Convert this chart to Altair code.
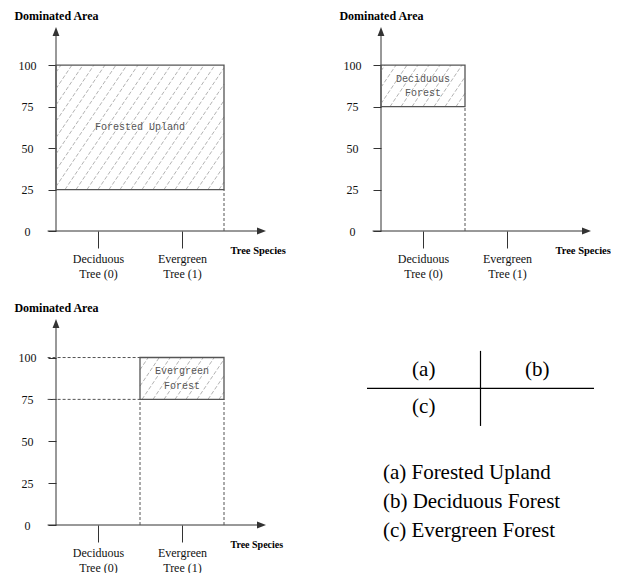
import json
import numpy as np
import pandas as pd
import altair as alt

SERIF = "Liberation Serif"
MONO = "Liberation Mono"

# ---------------- data ----------------
y_ticks = [0, 25, 50, 75, 100]
cat_values = [0, 1]
cat_labels = ["Deciduous|Tree (0)", "Evergreen|Tree (1)"]
x_title = "Tree Species"
y_title = "Dominated Area"

region_names = ["Forested Upland", "Deciduous|Forest", "Evergreen|Forest"]
region_x0 = [-0.5, -0.5, 0.5]
region_x1 = [1.5, 0.5, 1.5]
region_y0 = [25, 75, 75]
region_y1 = [100, 100, 100]

# dashed guide lines for each panel: x, x2, y, y2
guide_x = [[1.5], [0.5], [0.5, 1.5, -0.6, -0.6]]
guide_x2 = [[1.5], [0.5], [0.5, 1.5, 0.5, 0.5]]
guide_y = [[0], [0], [0, 0, 75, 100]]
guide_y2 = [[25], [75], [75, 75, 75, 100]]

table_cells = ["(a)", "(b)", "(c)"]
table_col = [0, 1, 0]
table_row = [0, 0, 1]
legend_lines = ["(a) Forested Upland", "(b) Deciduous Forest", "(c) Evergreen Forest"]

X_DOM = [-0.5, 2.0]
Y_DOM = [0, 123]
PW = 210


def hatch_df(x0, x1, y0, y1, pxx, pxy, spacing=11.0, angle=56.0):
    X0, X1, Y0, Y1 = x0 * pxx, x1 * pxx, y0 * pxy, y1 * pxy
    k = np.tan(np.radians(angle))
    H = Y1 - Y0
    rows = []
    c = np.floor((X0 - H / k) / spacing) * spacing
    while c < X1:
        xs, xe = max(c, X0), min(c + H / k, X1)
        if xe - xs > 0.5:
            rows.append({"x": xs / pxx, "x2": xe / pxx,
                         "y": (Y0 + k * (xs - c)) / pxy, "y2": (Y0 + k * (xe - c)) / pxy})
        c += spacing
    return pd.DataFrame(rows)


def panel(i, height, tsize):
    xs = alt.Scale(domain=X_DOM, nice=False, zero=False)
    ys = alt.Scale(domain=Y_DOM, nice=False, zero=False)
    pxx = PW / (X_DOM[1] - X_DOM[0])
    pxy = height / (Y_DOM[1] - Y_DOM[0])

    x_axis = alt.Axis(
        values=cat_values, tickSize=17, tickColor="#333", tickWidth=1, domain=False, grid=False,
        labelExpr="split(" + json.dumps(cat_labels) + "[datum.value], '|')",
        labelFont=SERIF, labelFontSize=12, labelColor="#111", labelPadding=5,
        labelBaseline="top", labelAlign="center", labelLineHeight=15,
        labelFlush=False, labelOverlap=False,
        title=x_title, titleX=174, titleY=19, titleAlign="left", titleBaseline="middle",
        titleFont=SERIF, titleFontSize=tsize, titleFontWeight="bold", titleColor="#000")
    y_axis = alt.Axis(
        values=y_ticks, tickSize=8, tickColor="#333", tickWidth=1, domain=False, grid=False,
        labelFont=SERIF, labelFontSize=12, labelColor="#111", labelAlign="center",
        labelBaseline="middle", labelPadding=21, labelOverlap=False, labelFlush=False,
        title=y_title, titleAngle=0, titleX=0, titleY=-12, titleAlign="center",
        titleBaseline="middle", titleFont=SERIF, titleFontSize=12, titleFontWeight="bold",
        titleColor="#000")

    def X(f):
        return alt.X(f, scale=xs, axis=x_axis)

    def Y(f):
        return alt.Y(f, scale=ys, axis=y_axis)

    axes_df = pd.DataFrame({"x": [X_DOM[0] - 0.1, X_DOM[0]], "x2": [X_DOM[1] - 0.05, X_DOM[0]],
                            "y": [0, 0], "y2": [0, Y_DOM[1] - 2]})
    axes = alt.Chart(axes_df).mark_rule(color="#333", strokeWidth=1).encode(
        x=X("x:Q"), x2="x2:Q", y=Y("y:Q"), y2="y2:Q")

    up = alt.Chart(pd.DataFrame({"x": [X_DOM[0]], "y": [Y_DOM[1]]})).mark_point(
        shape="M0,0L-0.38,1L0.38,1Z", filled=True, color="#333", size=324, opacity=1).encode(
        x=X("x:Q"), y=Y("y:Q"))
    right = alt.Chart(pd.DataFrame({"x": [X_DOM[1]], "y": [0]})).mark_point(
        shape="M0,0L-1,-0.38L-1,0.38Z", filled=True, color="#333", size=324, opacity=1).encode(
        x=X("x:Q"), y=Y("y:Q"))

    gdf = pd.DataFrame({"x": guide_x[i], "x2": guide_x2[i], "y": guide_y[i], "y2": guide_y2[i]})
    guides = alt.Chart(gdf).mark_rule(color="#555", strokeWidth=1, strokeDash=[3, 2]).encode(
        x=X("x:Q"), x2="x2:Q", y=Y("y:Q"), y2="y2:Q")

    hdf = hatch_df(region_x0[i], region_x1[i], region_y0[i], region_y1[i], pxx, pxy)
    hatch = alt.Chart(hdf).mark_rule(color="#b3b3b3", strokeWidth=1, strokeDash=[4, 2]).encode(
        x=X("x:Q"), x2="x2:Q", y=Y("y:Q"), y2="y2:Q")

    rdf = pd.DataFrame({"name": [region_names[i]], "x": [region_x0[i]], "x2": [region_x1[i]],
                        "y": [region_y0[i]], "y2": [region_y1[i]]})
    rect = alt.Chart(rdf).mark_rect(fillOpacity=0, stroke="#555", strokeWidth=1.3).encode(
        x=X("x:Q"), x2="x2:Q", y=Y("y:Q"), y2="y2:Q")
    n_lines = len(region_names[i].split("|"))
    label = alt.Chart(rdf).transform_calculate(
        x="(datum.x + datum.x2) / 2", y="(datum.y + datum.y2) / 2",
        lab="split(datum.name, '|')").mark_text(
        font=MONO, fontSize=10, color="#555", lineHeight=14.5, baseline="middle", align="center",
        dy=-7.25 * (n_lines - 1)).encode(
        x=X("x:Q"), y=Y("y:Q"), text="lab:N")

    return alt.layer(axes, guides, hatch, rect, label, up, right).properties(width=PW, height=height)


def table_panel():
    xs = alt.Scale(domain=[0, 2], nice=False, zero=False)
    ys = alt.Scale(domain=[-0.85, 4.8], nice=False, zero=False, reverse=True)
    lines_df = pd.DataFrame({"x": [1, 0], "x2": [1, 2], "y": [0, 1], "y2": [2, 1]})
    lines = alt.Chart(lines_df).mark_rule(color="#000", strokeWidth=1.2).encode(
        x=alt.X("x:Q", scale=xs, axis=None), x2="x2:Q",
        y=alt.Y("y:Q", scale=ys, axis=None), y2="y2:Q")
    cdf = pd.DataFrame({"t": table_cells, "col": table_col, "row": table_row})
    cells = alt.Chart(cdf).transform_calculate(
        x="datum.col + 0.5", y="datum.row + 0.5").mark_text(
        font=SERIF, fontSize=21, color="#000", align="center", baseline="middle").encode(
        x=alt.X("x:Q", scale=xs, axis=None), y=alt.Y("y:Q", scale=ys, axis=None), text="t:N")
    ldf = pd.DataFrame({"t": legend_lines, "i": list(range(len(legend_lines)))})
    legend = alt.Chart(ldf).transform_calculate(
        x="0.14", y="3.25 + 0.775 * datum.i").mark_text(
        font=SERIF, fontSize=21, color="#000", align="left", baseline="middle").encode(
        x=alt.X("x:Q", scale=xs, axis=None), y=alt.Y("y:Q", scale=ys, axis=None), text="t:N")
    return alt.layer(lines, cells, legend).properties(width=227, height=212)


row1 = alt.hconcat(panel(0, 204, 10.5), panel(1, 204, 10.5), spacing=52)
row2 = alt.hconcat(panel(2, 206, 10), table_panel(), spacing=83)
chart = alt.vconcat(row1, row2, spacing=22).configure(
    padding={"left": 5, "top": 1, "right": 0, "bottom": 0},
    view=alt.ViewConfig(strokeWidth=0),
    axis=alt.AxisConfig(labelFont=SERIF, titleFont=SERIF),
    font=SERIF)

chart.save("out.html", embed_options={"renderer": "svg", "actions": False})
